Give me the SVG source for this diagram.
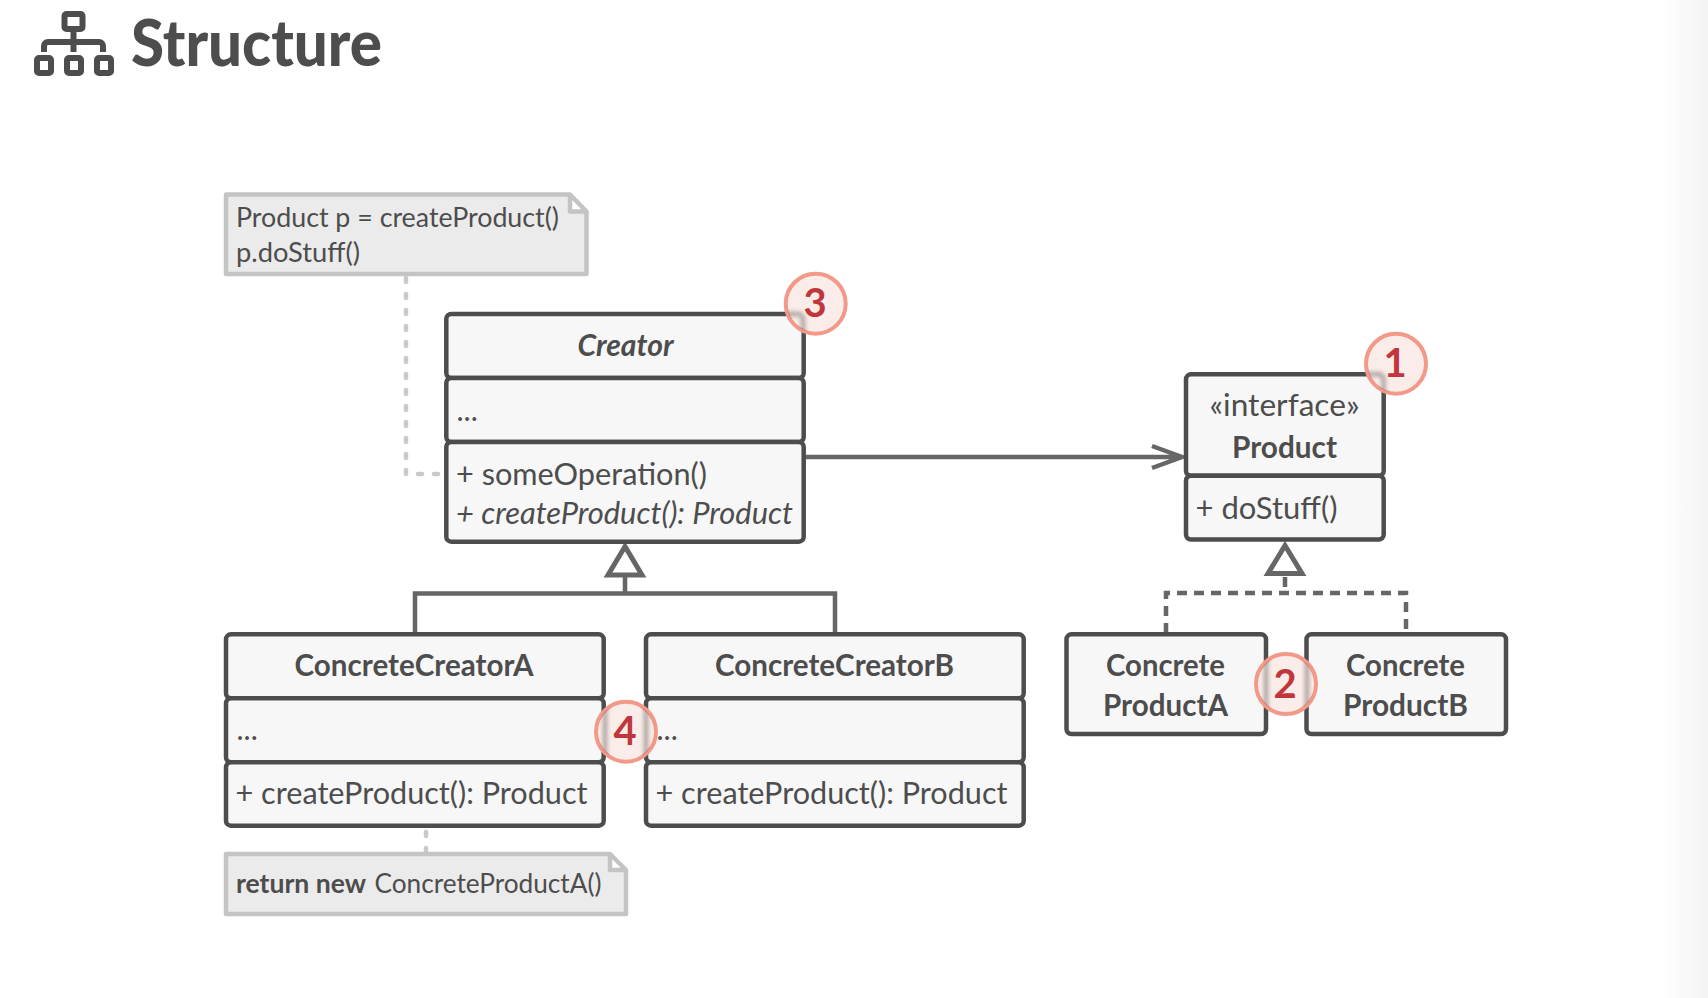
<svg xmlns="http://www.w3.org/2000/svg" width="1708" height="998" viewBox="0 0 1708 998">
<style>
text{font-family:"Lato","Noto Sans","Liberation Sans",sans-serif;fill:#4d4d4d;font-size:30px}
.b{font-weight:700}
.m{text-anchor:middle}
.i{font-style:italic}
.box rect{fill:#f7f7f7;stroke:#4d4d4d;stroke-width:4.5}
.note path{fill:#ebebeb;stroke:#c4c4c4;stroke-width:4.5;stroke-linejoin:round}
.note text{font-size:27px}
.conn{fill:none;stroke:#666;stroke-width:4.5}
.dash{stroke-dasharray:10 7}
.ndash{fill:none;stroke:#c9c9c9;stroke-width:4.500;stroke-dasharray:4 12;stroke-linecap:round}
.badge .ring{fill:#faece8;stroke:#f2998a;stroke-width:4}
.badge .sh{fill:none;stroke:#4d4d4d;stroke-width:4;opacity:.5;filter:url(#soft)}
.badge text{fill:#c1363c;font-size:40px;font-weight:700;text-anchor:middle}
</style>
<defs>
<linearGradient id="edge" x1="0" x2="1" y1="0" y2="0"><stop offset="0" stop-color="#fff"/><stop offset="1" stop-color="#f4f4f4"/></linearGradient>
<filter id="soft" x="-50%" y="-50%" width="200%" height="200%"><feGaussianBlur stdDeviation="2"/></filter>
<clipPath id="c1"><circle cx="1396" cy="363.7" r="29"/></clipPath>
<clipPath id="c2"><circle cx="1286" cy="684" r="29"/></clipPath>
<clipPath id="c3"><circle cx="815.7" cy="303.7" r="29"/></clipPath>
<clipPath id="c4"><circle cx="626" cy="731.7" r="29"/></clipPath>
</defs>
<rect x="0" y="0" width="1708" height="998" fill="#fff"/>
<rect x="1660" y="0" width="48" height="998" fill="url(#edge)"/>

<g id="title">
<g fill="none" stroke="#4d4d4d" stroke-width="6" stroke-linejoin="round">
<rect x="64.500" y="14" width="18" height="15" rx="2"/>
<path d="M73.500 29V52M44 52V46a4 4 0 0 1 4-4H99a4 4 0 0 1 4 4V52"/>
<rect x="37" y="58" width="14" height="15" rx="2"/><rect x="67" y="58" width="14" height="15" rx="2"/><rect x="97" y="58" width="14" height="15" rx="2"/>
</g>
<text x="131" y="66" class="b" style="font-size:64px;font-weight:900" textLength="251" lengthAdjust="spacingAndGlyphs">Structure</text>
</g>

<g id="connectors">
<path class="ndash" d="M406 278V474H440"/>
<path class="ndash" d="M426 832V852"/>
<path class="conn" d="M805 457H1181M1152 446L1182 457L1152 468"/>
<path class="conn" d="M625 577V593.500M415 633V593.500H835V633"/>
<path class="conn" d="M625 546.500L608 575H642Z" style="stroke-width:5"/>
<path class="conn dash" d="M1285 577V593M1166 633V593H1406V633"/>
<path class="conn" d="M1285 545.500L1268 573.500H1302Z" style="stroke-width:5"/>
</g>

<g id="note-creator" class="note">
<path d="M226 194.500H570L586.500 211.500V274H226ZM570 194.500V211.500H586.500"/>
<text x="236" y="226.500" textLength="323" lengthAdjust="spacingAndGlyphs">Product p = createProduct()</text>
<text x="236" y="262" textLength="124" lengthAdjust="spacingAndGlyphs">p.doStuff()</text>
</g>
<g id="note-concrete" class="note">
<path d="M226 854H610L626 870V914H226ZM610 854V870H626"/>
<text x="236" y="893"><tspan class="b" textLength="130" lengthAdjust="spacingAndGlyphs">return new</tspan></text>
<text x="374.500" y="893" textLength="227" lengthAdjust="spacingAndGlyphs">ConcreteProductA()</text>
</g>

<g id="creator" class="box">
<rect x="446.300" y="314" width="357.400" height="64" rx="5"/>
<rect x="446.300" y="378" width="357.400" height="64" rx="5"/>
<rect x="446.300" y="442" width="357.400" height="99.700" rx="5"/>
<text x="625.500" y="355.500" class="b i m" textLength="96" lengthAdjust="spacingAndGlyphs">Creator</text>
<text x="456.500" y="421">...</text>
<text x="456" y="484.500" textLength="251" lengthAdjust="spacingAndGlyphs">+ someOperation()</text>
<text x="456" y="524" class="i" textLength="337" lengthAdjust="spacingAndGlyphs">+ createProduct(): Product</text>
</g>

<g id="product" class="box">
<rect x="1186" y="374.300" width="197.700" height="101.400" rx="5"/>
<rect x="1186" y="475.700" width="197.700" height="63.800" rx="5"/>
<text x="1284.500" y="416" class="m" textLength="150" lengthAdjust="spacingAndGlyphs">«interface»</text>
<text x="1284.500" y="457.500" class="b m" textLength="105" lengthAdjust="spacingAndGlyphs">Product</text>
<text x="1195.500" y="518.500" textLength="142" lengthAdjust="spacingAndGlyphs">+ doStuff()</text>
</g>

<g id="concrete-creator-a" class="box">
<rect x="226" y="634.300" width="377.700" height="64" rx="5"/>
<rect x="226" y="698.300" width="377.700" height="64" rx="5"/>
<rect x="226" y="762.300" width="377.700" height="63.400" rx="5"/>
<text x="414" y="675.500" class="b m" textLength="239" lengthAdjust="spacingAndGlyphs">ConcreteCreatorA</text>
<text x="236.500" y="740">...</text>
<text x="235.500" y="803.500" textLength="352" lengthAdjust="spacingAndGlyphs">+ createProduct(): Product</text>
</g>

<g id="concrete-creator-b" class="box">
<rect x="646" y="634.300" width="377.700" height="64" rx="5"/>
<rect x="646" y="698.300" width="377.700" height="64" rx="5"/>
<rect x="646" y="762.300" width="377.700" height="63.400" rx="5"/>
<text x="834.500" y="675.500" class="b m" textLength="239" lengthAdjust="spacingAndGlyphs">ConcreteCreatorB</text>
<text x="656.500" y="740">...</text>
<text x="655.500" y="803.500" textLength="352" lengthAdjust="spacingAndGlyphs">+ createProduct(): Product</text>
</g>

<g id="concrete-product-a" class="box">
<rect x="1066.500" y="634.300" width="199.500" height="99.700" rx="5"/>
<text x="1165.500" y="676" class="b m" textLength="119" lengthAdjust="spacingAndGlyphs">Concrete</text>
<text x="1165.500" y="716" class="b m" textLength="125" lengthAdjust="spacingAndGlyphs">ProductA</text>
</g>
<g id="concrete-product-b" class="box">
<rect x="1306.500" y="634.300" width="199.500" height="99.700" rx="5"/>
<text x="1405.500" y="676" class="b m" textLength="119" lengthAdjust="spacingAndGlyphs">Concrete</text>
<text x="1405.500" y="716" class="b m" textLength="125" lengthAdjust="spacingAndGlyphs">ProductB</text>
</g>

<g id="badge-1" class="badge">
<circle class="ring" cx="1396" cy="363.700" r="30"/>
<g clip-path="url(#c1)"><path class="sh" d="M1350 374.300H1379a4.500 4.500 0 0 1 4.500 4.500V420"/></g>
<text x="1395" y="377">1</text>
</g>
<g id="badge-2" class="badge">
<circle class="ring" cx="1286" cy="684" r="30"/>
<g clip-path="url(#c2)"><path class="sh" d="M1266 640V730M1307 640V730"/></g>
<text x="1285" y="697.500">2</text>
</g>
<g id="badge-3" class="badge">
<circle class="ring" cx="815.700" cy="303.700" r="30"/>
<g clip-path="url(#c3)"><path class="sh" d="M770 314H798a5 5 0 0 1 5 5V360"/></g>
<text x="815" y="317">3</text>
</g>
<g id="badge-4" class="badge">
<circle class="ring" cx="626" cy="731.700" r="30"/>
<g clip-path="url(#c4)"><path class="sh" d="M605 690V775M646 690V775"/></g>
<text x="625" y="745">4</text>
</g>
</svg>
